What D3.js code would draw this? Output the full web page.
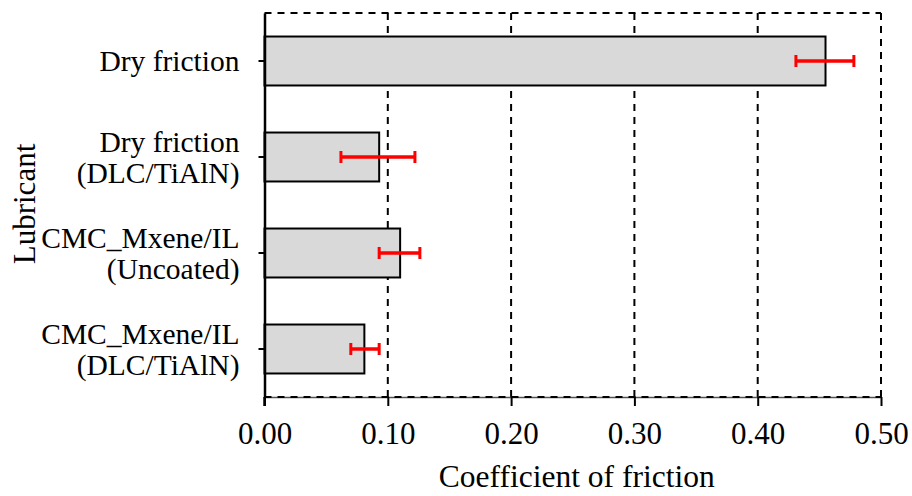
<!DOCTYPE html>
<html>
<head>
<meta charset="utf-8">
<script src="https://cdn.jsdelivr.net/npm/d3@7"></script>
<style>
  body { margin: 0; background: #fff; }
</style>
</head>
<body>
<div id="chart"></div>
<script>
// data
var categories = [
  ["Dry friction"],
  ["Dry friction", "(DLC/TiAlN)"],
  ["CMC_Mxene/IL", "(Uncoated)"],
  ["CMC_Mxene/IL", "(DLC/TiAlN)"]
];
var cofValues = [0.455, 0.093, 0.110, 0.081];
var errLow = [0.431, 0.062, 0.093, 0.070];
var errHigh = [0.478, 0.122, 0.126, 0.093];
var xTicks = [0, 0.1, 0.2, 0.3, 0.4, 0.5];

var FONT = "'Liberation Serif', 'Times New Roman', serif";

var W = 912, H = 496;
var margin = {top: 13, right: 31, bottom: 99, left: 264.5};
var width = W - margin.left - margin.right,
    height = H - margin.top - margin.bottom;

var svg = d3.select("#chart").append("svg")
    .attr("width", W)
    .attr("height", H)
  .append("g")
    .attr("transform", "translate(" + margin.left + "," + margin.top + ")");

var x = d3.scaleLinear().domain([0, 0.5]).range([0, width]);
var y = d3.scaleBand().domain(d3.range(categories.length)).range([0, height]).paddingInner(0.49).paddingOuter(0.245);

// dashed grid + frame
svg.selectAll(".grid")
  .data(xTicks.slice(1))
  .enter().append("line")
    .attr("class", "grid")
    .attr("x1", function(d) { return x(d); })
    .attr("x2", function(d) { return x(d); })
    .attr("y1", 0)
    .attr("y2", height)
    .attr("stroke", "#000")
    .attr("stroke-width", 2)
    .attr("stroke-dasharray", "7,6");

svg.append("line")
    .attr("x1", 0).attr("x2", width)
    .attr("y1", 0).attr("y2", 0)
    .attr("stroke", "#000")
    .attr("stroke-width", 2)
    .attr("stroke-dasharray", "7,6");

// bars
svg.selectAll(".bar")
  .data(cofValues)
  .enter().append("rect")
    .attr("class", "bar")
    .attr("x", x(0))
    .attr("y", function(d, i) { return y(i); })
    .attr("width", function(d) { return x(d) - x(0); })
    .attr("height", y.bandwidth())
    .attr("fill", "#d9d9d9")
    .attr("stroke", "#000")
    .attr("stroke-width", 2);

// error bars
var err = svg.selectAll(".err")
  .data(cofValues)
  .enter().append("g")
    .attr("class", "err")
    .attr("transform", function(d, i) { return "translate(0," + (y(i) + y.bandwidth() / 2) + ")"; });
err.append("line")
    .attr("x1", function(d, i) { return x(errLow[i]); })
    .attr("x2", function(d, i) { return x(errHigh[i]); })
    .attr("stroke", "#ff0000")
    .attr("stroke-width", 3.5);
err.selectAll(".cap")
  .data(function(d, i) { return [errLow[i], errHigh[i]]; })
  .enter().append("line")
    .attr("x1", function(d) { return x(d); })
    .attr("x2", function(d) { return x(d); })
    .attr("y1", -6).attr("y2", 6)
    .attr("stroke", "#ff0000")
    .attr("stroke-width", 3);

// bottom axis
var xAxis = svg.append("g")
    .attr("transform", "translate(0," + height + ")")
    .call(d3.axisBottom(x).tickValues(xTicks).tickFormat(d3.format(".2f")).tickSizeInner(9).tickSizeOuter(0).tickPadding(16));
xAxis.attr("font-family", null).attr("font-size", null);
xAxis.select(".domain").attr("stroke", "#555").attr("stroke-width", 1.5);
xAxis.selectAll(".tick line").attr("stroke", "#000").attr("stroke-width", 2);
xAxis.selectAll(".tick text")
    .style("font-family", FONT)
    .style("font-size", "31px")
    .attr("fill", "#000");
xAxis.append("line")
    .attr("x1", 0).attr("x2", width)
    .attr("stroke", "#000")
    .attr("stroke-width", 2)
    .attr("stroke-dasharray", "7,6");

// left axis
var yAxis = svg.append("g")
    .call(d3.axisLeft(y).tickSizeInner(6).tickSizeOuter(0).tickFormat(""));
yAxis.select(".domain").attr("stroke", "#000").attr("stroke-width", 2.5);
yAxis.selectAll(".tick line").attr("stroke", "#000").attr("stroke-width", 2);

svg.append("line")
    .attr("x1", 0).attr("x2", 0)
    .attr("y1", height).attr("y2", height + 9)
    .attr("stroke", "#000").attr("stroke-width", 2.5);

// category labels
var lineH = 31;
svg.selectAll(".cat")
  .data(categories)
  .enter().append("text")
    .attr("class", "cat")
    .attr("text-anchor", "end")
    .style("font-family", FONT)
    .style("font-size", "29.5px")
    .attr("transform", function(d, i) { return "translate(-25," + (y(i) + y.bandwidth() / 2) + ")"; })
  .selectAll("tspan")
  .data(function(d) { return d; })
  .enter().append("tspan")
    .attr("x", 0)
    .attr("y", function(d, j, nodes) { return (j - (nodes.length - 1) / 2) * lineH; })
    .attr("dy", "0.35em")
    .text(function(d) { return d; });

// axis titles
svg.append("text")
    .attr("x", x(0.25) + 4)
    .attr("y", height + 90)
    .attr("text-anchor", "middle")
    .style("font-family", FONT)
    .style("font-size", "31.5px")
    .text("Coefficient of friction");

svg.append("text")
    .attr("transform", "translate(" + (-229.5) + "," + (height / 2 - 1) + ") rotate(-90)")
    .attr("text-anchor", "middle")
    .style("font-family", FONT)
    .style("font-size", "31px")
    .text("Lubricant");
</script>
</body>
</html>
